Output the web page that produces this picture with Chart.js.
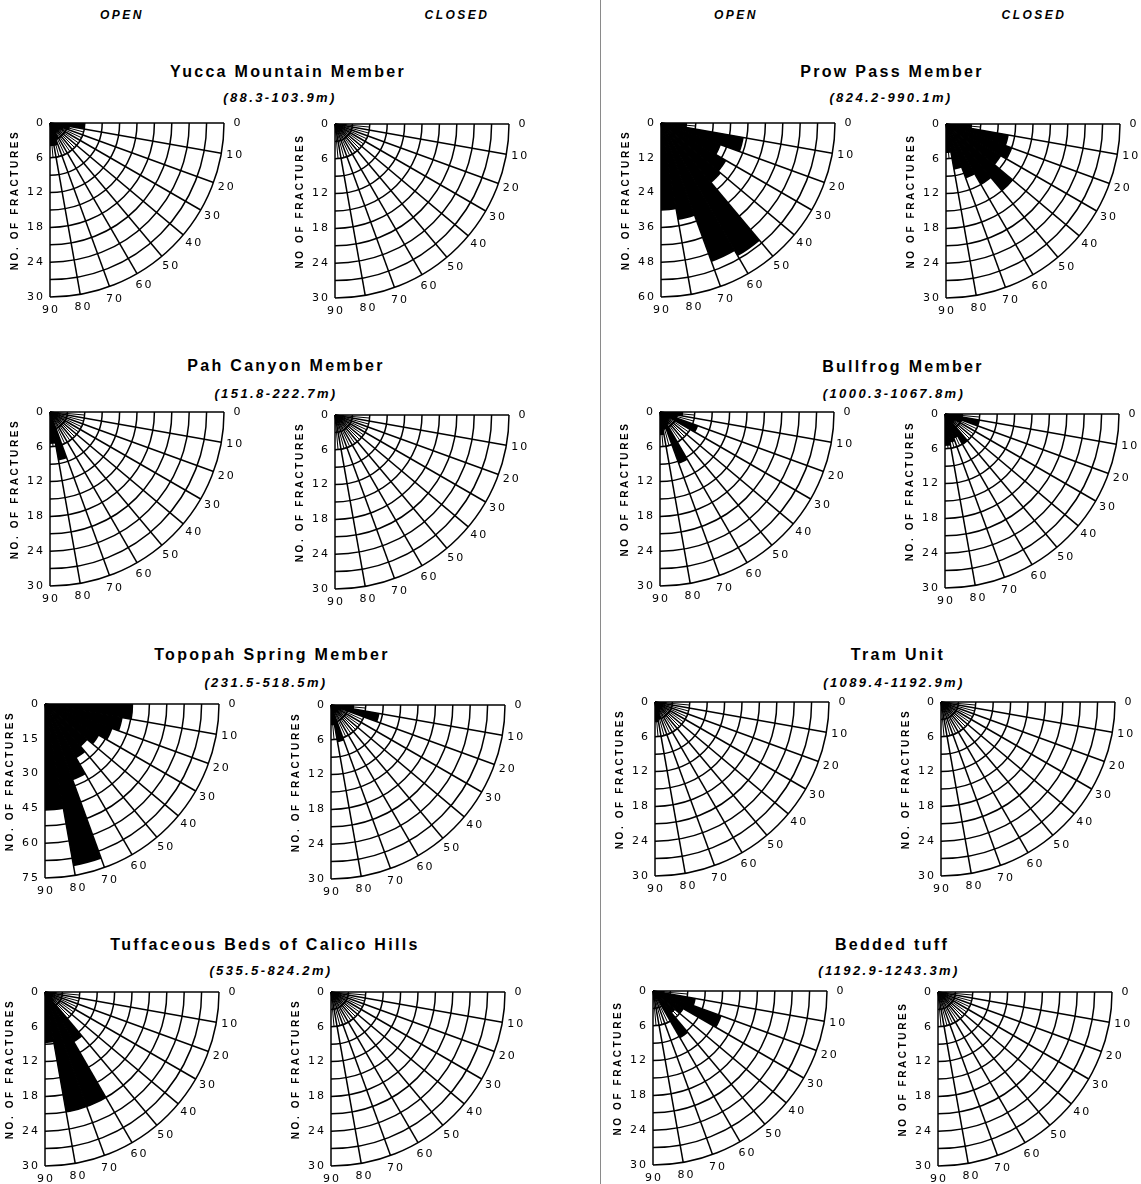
<!DOCTYPE html>
<html>
<head>
<meta charset="utf-8">
<script src="https://cdn.jsdelivr.net/npm/chart.js@4.4.1/dist/chart.umd.min.js"></script>
<style>
  body { margin: 0; background: #fff; width: 1141px; height: 1184px; position: relative; overflow: hidden;
         font-family: "Liberation Sans", Arial, sans-serif; color: #000; }
  .txt { position: absolute; transform: translate(-50%, -50%); white-space: nowrap; }
  .hdr { font-size: 12px; font-weight: bold; font-style: italic; letter-spacing: 2.5px; }
  .title { font-size: 16px; font-weight: bold; letter-spacing: 2.3px; }
  .sub { font-size: 13px; font-weight: bold; font-style: italic; letter-spacing: 2.4px; }
  .panel { position: absolute; overflow: hidden; }
  .panel canvas { position: absolute; }
  #sep { position: absolute; left: 600px; top: 0; width: 1px; height: 1184px; background: #8a8a8a; }
</style>
</head>
<body>
<div id="sep"></div>
<script>
// dip-angle bins (degrees) and the tick labels round the rim
const DIP_BINS = ['0-10', '10-20', '20-30', '30-40', '40-50', '50-60', '60-70', '70-80', '80-90'];
const DIP_TICKS = [0, 10, 20, 30, 40, 50, 60, 70, 80, 90];
const HEADERS = ['OPEN', 'CLOSED', 'OPEN', 'CLOSED'];

const UNITS = ['Yucca Mountain Member', 'Prow Pass Member', 'Pah Canyon Member', 'Bullfrog Member',
  'Topopah Spring Member', 'Tram Unit', 'Tuffaceous Beds of Calico Hills', 'Bedded tuff'];
const DEPTHS = ['(88.3-103.9m)', '(824.2-990.1m)', '(151.8-222.7m)', '(1000.3-1067.8m)',
  '(231.5-518.5m)', '(1089.4-1192.9m)', '(535.5-824.2m)', '(1192.9-1243.3m)'];

// number of fractures in each 10 degree dip bin
const yuccaOpen      = [6, 3.5, 2.5, 2, 2, 2, 3, 4, 4];
const yuccaClosed    = [2, 1, 1, 1, 1, 1, 1, 1, 1.5];
const prowOpen       = [9, 29, 22, 26, 27, 53, 51, 34, 30];
const prowClosed     = [4.5, 11, 12, 11, 15, 12, 10, 8, 5];
const pahOpen        = [1.5, 1, 1, 1, 1, 1, 1.5, 8.5, 5.5];
const pahClosed      = [1.5, 1, 1, 1, 1, 1, 1, 1, 1.5];
const bullfrogOpen   = [4, 3, 7, 2, 2, 2.5, 9.5, 3, 4];
const bullfrogClosed = [3, 6, 3, 2, 2, 6, 4.5, 5, 5.5];
const topopahOpen    = [38, 34, 31, 27, 24, 27, 35, 71, 46];
const topopahClosed  = [4, 8.5, 2, 1.5, 1.5, 1.5, 1.5, 6.5, 3.5];
const tramOpen       = [2, 1.5, 1.5, 1.5, 1.5, 1.5, 2, 3, 3.5];
const tramClosed     = [1.5, 1, 1, 1, 1, 1, 1, 1, 1.5];
const calicoOpen     = [2, 1.5, 1.5, 1.5, 2, 10, 21, 21, 8.8];
const calicoClosed   = [1.5, 1, 1, 1, 1, 1, 1, 1, 1.5];
const beddedOpen     = [2, 7.5, 12.6, 6, 5, 9.4, 1.5, 1.5, 1.5];
const beddedClosed   = [1.5, 1, 1, 1, 1, 1, 1, 1, 1.5];

// radial axis: max and labelled step
const axisMax  = [30, 30, 60, 30, 30, 30, 30, 30, 75, 30, 30, 30, 30, 30, 30, 30];
const axisStep = [6, 6, 12, 6, 6, 6, 6, 6, 15, 6, 6, 6, 6, 6, 6, 6];
const axisTitles = ['NO. OF FRACTURES', 'NO OF FRACTURES', 'NO. OF FRACTURES', 'NO OF FRACTURES',
  'NO. OF FRACTURES', 'NO. OF FRACTURES', 'NO OF FRACTURES', 'NO. OF FRACTURES',
  'NO. OF FRACTURES', 'NO. OF FRACTURES', 'NO. OF FRACTURES', 'NO. OF FRACTURES',
  'NO. OF FRACTURES', 'NO. OF FRACTURES', 'NO OF FRACTURES', 'NO OF FRACTURES'];

const series = [yuccaOpen, yuccaClosed, prowOpen, prowClosed,
  pahOpen, pahClosed, bullfrogOpen, bullfrogClosed,
  topopahOpen, topopahClosed, tramOpen, tramClosed,
  calicoOpen, calicoClosed, beddedOpen, beddedClosed];

// layout (page coordinates of each quadrant's corner)
const R = 174;        // quadrant radius
const M = 40;         // canvas padding round the circle
const PAD_L = 60, PAD_T = 15;
const centres = [
  [50, 123], [335, 124], [661, 123], [946, 124],
  [50, 412], [335, 415], [660, 412], [945, 414],
  [45, 704], [331, 705], [655, 702], [941, 702],
  [45, 992], [331, 992], [653, 991], [938, 992]
];
const headerPos = [[122, 15], [457, 15], [736, 15], [1034, 15]];
const titlePos = [[288, 72, 97], [892, 72, 97], [286, 366, 393], [903, 367, 393],
  [272, 655, 682], [898, 655, 682], [265, 945, 970], [892, 945, 970]];
const subShift = [-8, -1, -10, -9, -6, -4, 6, -3];

function addText(cls, text, x, y) {
  const d = document.createElement('div');
  d.className = 'txt ' + cls;
  d.textContent = text;
  d.style.left = x + 'px';
  d.style.top = y + 'px';
  document.body.appendChild(d);
}

HEADERS.forEach((h, i) => addText('hdr', h, headerPos[i][0], headerPos[i][1]));
UNITS.forEach((u, i) => {
  addText('title', u, titlePos[i][0], titlePos[i][1]);
  addText('sub', DEPTHS[i], titlePos[i][0] + subShift[i], titlePos[i][2]);
});

// quarter-circle grid, drawn from the radial scale before the wedges
const quadrantGrid = {
  id: 'quadrantGrid',
  beforeDatasetsDraw(chart) {
    const s = chart.scales.r;
    const ctx = chart.ctx;
    const base = s.getIndexAngle(0) - Math.PI / 2;
    const outer = s.getDistanceFromCenterForValue(s.max);
    const inner = s.getDistanceFromCenterForValue(s.max * 0.2);
    ctx.save();
    ctx.strokeStyle = '#000';
    ctx.lineWidth = 1.5;
    s.ticks.forEach(t => {
      if (t.value <= 0) return;
      ctx.beginPath();
      ctx.arc(s.xCenter, s.yCenter, s.getDistanceFromCenterForValue(t.value), base, base + Math.PI / 2);
      ctx.stroke();
    });
    for (let d = 0; d <= 90; d += 5) {
      const a = base + d * Math.PI / 180;
      const len = d % 10 === 0 ? outer : inner;
      ctx.lineWidth = d % 10 === 0 ? 1.5 : 1;
      ctx.beginPath();
      ctx.moveTo(s.xCenter, s.yCenter);
      ctx.lineTo(s.xCenter + Math.cos(a) * len, s.yCenter + Math.sin(a) * len);
      ctx.stroke();
    }
    ctx.restore();
  },
  afterDatasetsDraw(chart, args, opts) {
    const s = chart.scales.r;
    const ctx = chart.ctx;
    const cx = s.xCenter, cy = s.yCenter;
    const base = s.getIndexAngle(0) - Math.PI / 2;
    const outer = s.getDistanceFromCenterForValue(s.max);
    ctx.save();
    ctx.fillStyle = '#000';
    ctx.font = '11px "DejaVu Sans"';
    ctx.letterSpacing = '2px';
    ctx.textBaseline = 'middle';
    ctx.textAlign = 'right';
    s.ticks.forEach(t => {
      if (Math.abs(t.value % opts.step) > 1e-6) return;
      ctx.fillText(String(t.value), cx - 5, cy + s.getDistanceFromCenterForValue(t.value));
    });
    ctx.textAlign = 'center';
    DIP_TICKS.forEach(d => {
      const a = base + d * Math.PI / 180;
      ctx.fillText(String(d), cx + Math.cos(a) * (outer + 13) + 1, cy + Math.sin(a) * (outer + 13));
    });
    ctx.translate(cx - 35, cy + 77);
    ctx.rotate(-Math.PI / 2);
    ctx.font = 'bold 10px "Liberation Sans"';
    ctx.letterSpacing = '2.6px';
    ctx.fillText(opts.title, 0, 0);
    ctx.restore();
  }
};

series.forEach((values, i) => {
  const [x, y] = centres[i];
  const wrap = document.createElement('div');
  wrap.className = 'panel';
  wrap.style.left = (x - PAD_L) + 'px';
  wrap.style.top = (y - PAD_T) + 'px';
  wrap.style.width = (PAD_L + R + 32) + 'px';
  wrap.style.height = (PAD_T + R + 26) + 'px';
  const cv = document.createElement('canvas');
  const size = 2 * (R + M);
  cv.width = size;
  cv.height = size;
  cv.style.left = (PAD_L - R - M) + 'px';
  cv.style.top = (PAD_T - R - M) + 'px';
  wrap.appendChild(cv);
  document.body.appendChild(wrap);

  new Chart(cv, {
    type: 'polarArea',
    data: {
      labels: DIP_BINS,
      datasets: [{
        data: values,
        angle: 10,
        backgroundColor: '#000',
        borderWidth: 0
      }]
    },
    options: {
      responsive: false,
      animation: false,
      events: [],
      layout: { padding: M },
      plugins: {
        legend: { display: false },
        tooltip: { enabled: false },
        quadrantGrid: { step: axisStep[i], title: axisTitles[i] }
      },
      scales: {
        r: {
          min: 0,
          max: axisMax[i],
          startAngle: 90,
          ticks: { display: false, stepSize: axisMax[i] / 10 },
          grid: { display: false },
          angleLines: { display: false },
          pointLabels: { display: false }
        }
      }
    },
    plugins: [quadrantGrid]
  });
});
</script>
</body>
</html>
